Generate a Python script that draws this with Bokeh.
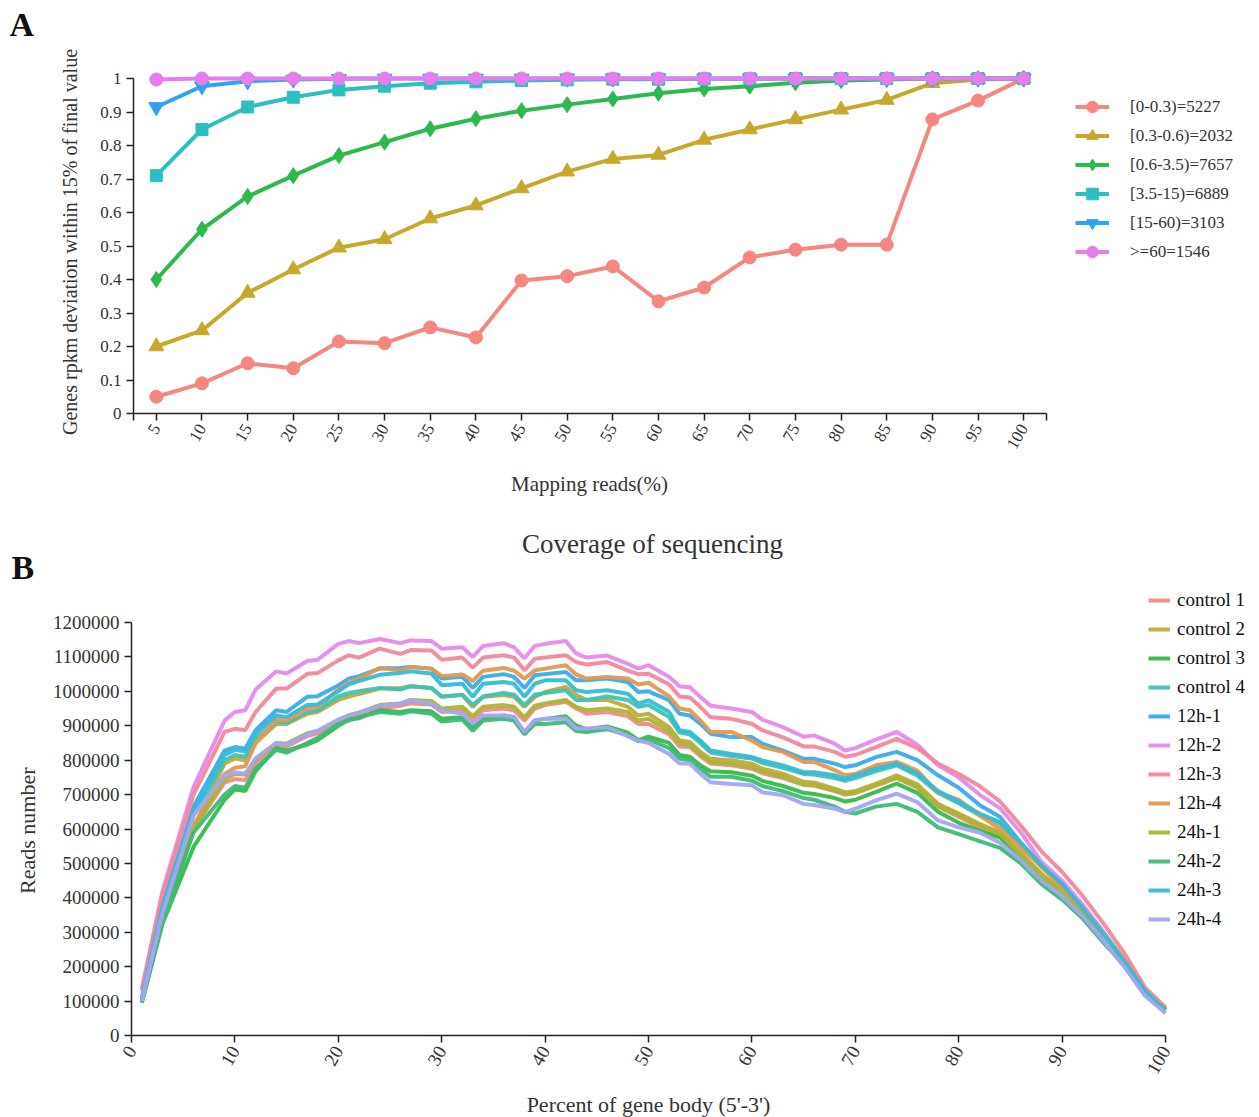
import math
from bokeh.plotting import figure
from bokeh.models import FixedTicker, Legend, LegendItem, NumeralTickFormatter, Range1d
from bokeh.core.properties import value
from bokeh.embed import file_html
from bokeh.resources import INLINE

FONT = "Liberation Serif"
W = 1258

# ---------------- Panel A data ----------------
mapping_pct = [5, 10, 15, 20, 25, 30, 35, 40, 45, 50, 55, 60, 65, 70, 75, 80, 85, 90, 95, 100]
a_labels = ["[0-0.3)=5227", "[0.3-0.6)=2032", "[0.6-3.5)=7657", "[3.5-15)=6889", "[15-60)=3103", ">=60=1546"]
a_r0_03 = [0.05, 0.09, 0.15, 0.135, 0.215, 0.21, 0.257, 0.227, 0.397, 0.41, 0.439, 0.335, 0.376, 0.466, 0.489, 0.504, 0.504, 0.878, 0.934, 1.0]
a_r03_06 = [0.20, 0.248, 0.36, 0.43, 0.495, 0.52, 0.582, 0.621, 0.672, 0.722, 0.760, 0.772, 0.817, 0.848, 0.878, 0.907, 0.936, 0.986, 0.997, 1.0]
a_r06_35 = [0.40, 0.55, 0.648, 0.71, 0.77, 0.81, 0.850, 0.880, 0.904, 0.922, 0.939, 0.956, 0.969, 0.977, 0.987, 0.994, 0.997, 1.0, 1.0, 1.0]
a_r35_15 = [0.71, 0.848, 0.915, 0.944, 0.966, 0.977, 0.986, 0.99, 0.994, 0.996, 0.998, 0.998, 0.999, 0.999, 1.0, 1.0, 1.0, 1.0, 1.0, 1.0]
a_r15_60 = [0.915, 0.977, 0.992, 0.997, 0.999, 1.0, 1.0, 1.0, 1.0, 1.0, 1.0, 1.0, 1.0, 1.0, 1.0, 1.0, 1.0, 1.0, 1.0, 1.0]
a_r60 = [0.997, 1.0, 1.0, 1.0, 1.0, 1.0, 1.0, 1.0, 1.0, 1.0, 1.0, 1.0, 1.0, 1.0, 1.0, 1.0, 1.0, 1.0, 1.0, 1.0]
a_yticks = [0, 0.1, 0.2, 0.3, 0.4, 0.5, 0.6, 0.7, 0.8, 0.9, 1.0]
a_ytick_labels = ["0", "0.1", "0.2", "0.3", "0.4", "0.5", "0.6", "0.7", "0.8", "0.9", "1"]

# ---------------- Panel B data (reads, thousands) ----------------
gene_body_pct = [1, 3, 6, 9, 10, 11, 12, 14, 15, 17, 18, 20, 21, 22, 24, 26, 27, 29, 30, 32,
                 33, 34, 36, 37, 38, 39, 40, 42, 43, 44, 46, 48, 49, 50, 52, 53, 54, 55, 56, 58,
                 60, 61, 63, 65, 66, 68, 69, 70, 72, 74, 76, 78, 80, 82, 84, 86, 88, 90, 92, 94,
                 96, 98, 99, 100]
control_1 = [103, 340, 600, 735, 745, 742, 790, 845, 840, 870, 878, 912, 925, 932, 950, 958, 965, 962, 940, 945,
             918, 945, 950, 945, 915, 950, 960, 970, 950, 935, 940, 928, 905, 905, 875, 840, 838, 812, 790, 785,
             775, 762, 748, 728, 726, 710, 700, 704, 726, 748, 720, 665, 635, 605, 580, 522, 462, 410, 345, 275,
             205, 122, 96, 75]
control_2 = [102, 345, 605, 790, 805, 800, 850, 905, 905, 935, 940, 975, 985, 992, 1008, 1010, 1015, 1010, 984, 989,
             955, 984, 989, 984, 955, 984, 998, 1013, 989, 975, 975, 955, 930, 935, 896, 857, 853, 824, 804, 800,
             790, 775, 761, 737, 735, 717, 707, 710, 732, 756, 730, 673, 645, 615, 590, 530, 470, 420, 355, 285,
             210, 128, 100, 78]
control_3 = [95, 325, 548, 685, 715, 710, 768, 835, 828, 845, 858, 900, 918, 922, 945, 940, 945, 942, 920, 925,
             895, 922, 930, 925, 880, 915, 920, 928, 900, 890, 898, 880, 858, 868, 850, 815, 810, 785, 768, 765,
             755, 740, 725, 705, 702, 690, 680, 685, 708, 732, 705, 650, 618, 595, 575, 515, 455, 405, 340, 272,
             205, 122, 96, 74]
control_4 = [105, 365, 640, 800, 815, 810, 860, 912, 908, 940, 945, 985, 995, 1000, 1010, 1005, 1015, 1010, 985, 990,
             960, 985, 995, 990, 960, 990, 995, 1003, 975, 975, 985, 975, 955, 960, 925, 880, 875, 850, 822, 812,
             805, 792, 778, 760, 758, 748, 740, 748, 768, 785, 755, 705, 675, 640, 615, 555, 490, 435, 365, 290,
             212, 128, 100, 75]
h12_1 = [108, 380, 665, 828, 838, 833, 887, 945, 940, 984, 986, 1017, 1037, 1044, 1066, 1068, 1071, 1066, 1037, 1042,
         1010, 1042, 1050, 1042, 1010, 1047, 1050, 1056, 1032, 1032, 1037, 1027, 998, 1000, 974, 935, 930, 906, 877, 867,
         867, 848, 828, 804, 804, 790, 780, 785, 809, 824, 800, 756, 720, 670, 635, 560, 495, 440, 375, 300,
         220, 135, 105, 78]
h12_2 = [136, 420, 722, 915, 940, 945, 1005, 1058, 1052, 1088, 1092, 1138, 1146, 1140, 1152, 1140, 1148, 1146, 1124, 1128,
         1100, 1132, 1140, 1128, 1096, 1132, 1138, 1146, 1110, 1098, 1104, 1080, 1066, 1076, 1042, 1015, 1012, 984, 958, 950,
         940, 918, 896, 868, 872, 848, 828, 835, 860, 882, 845, 785, 750, 700, 660, 590, 505, 450, 380, 300,
         215, 132, 110, 78]
h12_3 = [130, 410, 700, 882, 891, 887, 940, 1008, 1008, 1051, 1053, 1090, 1105, 1098, 1124, 1109, 1120, 1119, 1092, 1098,
         1069, 1098, 1105, 1098, 1061, 1095, 1098, 1105, 1085, 1078, 1085, 1060, 1050, 1051, 1020, 985, 982, 955, 925, 920,
         906, 887, 866, 840, 840, 824, 810, 815, 838, 862, 835, 790, 760, 725, 680, 610, 535, 475, 405, 325,
         240, 140, 110, 82]
h12_4 = [104, 350, 610, 760, 778, 782, 850, 918, 915, 950, 955, 1005, 1025, 1037, 1068, 1061, 1071, 1066, 1044, 1049,
         1030, 1060, 1068, 1060, 1037, 1061, 1066, 1076, 1049, 1037, 1042, 1037, 1020, 1025, 985, 950, 945, 916, 882, 882,
         857, 838, 824, 795, 795, 771, 756, 760, 785, 795, 770, 705, 685, 640, 600, 545, 490, 430, 365, 295,
         220, 130, 105, 78]
h24_1 = [100, 335, 600, 745, 760, 758, 800, 850, 848, 878, 885, 915, 930, 938, 960, 965, 975, 972, 950, 955,
         928, 955, 960, 955, 925, 958, 965, 975, 955, 945, 950, 940, 915, 920, 885, 850, 845, 818, 795, 790,
         780, 768, 752, 730, 728, 712, 702, 705, 728, 750, 722, 668, 640, 610, 585, 525, 465, 415, 350, 280,
         208, 125, 98, 76]
h24_2 = [98, 330, 590, 700, 725, 720, 775, 830, 822, 850, 865, 905, 915, 925, 940, 935, 942, 935, 912, 918,
         885, 915, 920, 915, 875, 905, 905, 910, 885, 882, 890, 872, 855, 860, 835, 805, 800, 775, 752, 752,
         740, 725, 710, 690, 685, 665, 650, 645, 665, 673, 650, 605, 585, 565, 545, 500, 440, 395, 340, 270,
         205, 122, 96, 74]
h24_3 = [110, 375, 650, 815, 830, 825, 875, 930, 925, 960, 962, 1000, 1020, 1030, 1048, 1053, 1058, 1052, 1018, 1022,
         984, 1022, 1027, 1022, 984, 1022, 1032, 1032, 1003, 998, 1003, 993, 964, 974, 940, 887, 882, 857, 828, 818,
         809, 799, 785, 765, 765, 756, 746, 756, 775, 790, 762, 710, 680, 645, 620, 560, 495, 440, 370, 295,
         215, 130, 100, 73]
h24_4 = [100, 355, 640, 755, 765, 760, 805, 850, 845, 875, 885, 918, 930, 938, 958, 965, 974, 964, 945, 935,
         906, 930, 930, 925, 882, 916, 920, 921, 892, 892, 896, 870, 857, 850, 818, 790, 790, 761, 736, 731,
         727, 707, 698, 673, 670, 659, 649, 659, 683, 703, 678, 625, 605, 590, 560, 510, 450, 405, 345, 275,
         200, 116, 90, 65]
b_labels = ["control 1", "control 2", "control 3", "control 4", "12h-1", "12h-2", "12h-3", "12h-4",
            "24h-1", "24h-2", "24h-3", "24h-4"]
b_series = [control_1, control_2, control_3, control_4, h12_1, h12_2, h12_3, h12_4, h24_1, h24_2, h24_3, h24_4]
b_yticks = list(range(0, 1200001, 100000))
b_xticks = list(range(0, 101, 10))

a_colors = ["#F4877F", "#C6A92C", "#2DB94B", "#2DBFBF", "#2EA3F2", "#E47EEC"]
a_markers = ["circle", "triangle", "diamond", "square", "inverted_triangle", "circle"]
a_sizes = [13, 15, 16, 12, 15, 13]
b_colors = ["#F28A84", "#C5A83A", "#35BA48", "#3EC3B5", "#3AABEB", "#E58AEB",
            "#F2879D", "#E3994F", "#A8B634", "#3CBB78", "#35BBD6", "#A4A6F0"]


def style_axes(p, tick_size):
    for ax in (p.xaxis[0], p.yaxis[0]):
        ax.axis_line_width = 1.5
        ax.axis_line_color = "#222222"
        ax.major_tick_line_color = "#222222"
        ax.major_tick_line_width = 1.5
        ax.major_tick_out = 7
        ax.major_tick_in = 0
        ax.minor_tick_line_color = None
        ax.major_label_text_font = FONT
        ax.major_label_text_font_size = tick_size
        ax.major_label_text_color = "#333333"
        ax.axis_label_text_font = FONT
        ax.axis_label_text_font_style = "normal"
        ax.axis_label_text_color = "#333333"
    p.grid.visible = False
    p.outline_line_color = None


def text_strip(height, texts):
    """A plain strip (no axes) whose data units are pixels, for panel letters, titles and x labels."""
    s = figure(width=W, height=height, x_range=Range1d(0, W), y_range=Range1d(height, 0),
               x_axis_type=None, y_axis_type=None, output_backend="svg", toolbar_location=None,
               min_border_left=0, min_border_right=0, min_border_top=0, min_border_bottom=0)
    s.grid.visible = False
    s.outline_line_color = None
    for (tx, ty, t, size, style, align, color) in texts:
        s.text(x=[tx], y=[ty], text=[t], text_font=value(FONT), text_font_size=size,
               text_font_style=style, text_align=align, text_baseline="middle", text_color=color)
    return s


# ---------------- header with "A" (page y 0-45) ----------------
head_a = text_strip(45, [(9, 24, "A", "34px", "bold", "left", "#111111")])

# ---------------- Panel A (page y 45-465) ----------------
pa = figure(width=W, height=420, x_range=(2.5, 124.84), y_range=(0, 1.0239),
            output_backend="svg", toolbar_location=None,
            min_border_left=133, min_border_right=8, min_border_top=25, min_border_bottom=52)
style_axes(pa, "17px")
pa.xaxis.bounds = (2.5, 102.5)
pa.yaxis.bounds = (0, 1)
pa.xaxis.ticker = FixedTicker(ticks=[2.5] + mapping_pct + [102.5])
pa.xaxis.major_label_overrides = {2.5: "", 102.5: ""}
pa.xaxis.major_label_orientation = math.pi / 3
pa.yaxis.ticker = FixedTicker(ticks=a_yticks)
pa.yaxis.major_label_overrides = {t: l for t, l in zip(a_yticks, a_ytick_labels)}
pa.yaxis.axis_label = "Genes rpkm deviation within 15% of final value"
pa.yaxis.axis_label_text_font_size = "20px"
pa.yaxis.axis_label_standoff = 16

a_all = [a_r0_03, a_r03_06, a_r06_35, a_r35_15, a_r15_60, a_r60]
items = []
for vals, col, mk, sz, lab in zip(a_all, a_colors, a_markers, a_sizes, a_labels):
    lr = pa.line(mapping_pct, vals, line_color=col, line_width=4)
    sr = pa.scatter(mapping_pct, vals, marker=mk, size=sz, fill_color=col, line_color=col)
    items.append(LegendItem(label=lab, renderers=[lr, sr]))
leg_a = Legend(items=items, location=(942, 147), glyph_width=34, glyph_height=29,
               label_standoff=21, spacing=0, padding=0, margin=0, border_line_color=None,
               background_fill_alpha=0, label_text_font=FONT, label_text_font_size="17px",
               label_text_color="#333333")
pa.add_layout(leg_a)

# ---------------- strip: A's x label, B's title and "B" (page y 465-587) ----------------
mid = text_strip(122, [(589, 18, "Mapping reads(%)", "21px", "normal", "center", "#333333"),
                       (652, 78, "Coverage of sequencing", "27px", "normal", "center", "#333333"),
                       (11, 102, "B", "34px", "bold", "left", "#111111")])

# ---------------- Panel B (page y 587-1085) ----------------
pb = figure(width=W, height=498, x_range=(0, 108.99), y_range=(0, 1301695),
            output_backend="svg", toolbar_location=None,
            min_border_left=131, min_border_right=0, min_border_top=0, min_border_bottom=50)
style_axes(pb, "19px")
pb.xaxis.bounds = (0, 100)
pb.yaxis.bounds = (0, 1200000)
pb.xaxis.ticker = FixedTicker(ticks=b_xticks)
pb.xaxis.major_label_orientation = math.pi / 3
pb.yaxis.ticker = FixedTicker(ticks=b_yticks)
pb.yaxis.formatter = NumeralTickFormatter(format="0")
# trailing no-break spaces centre the visible words on the axis span rather than on the taller frame
pb.yaxis.axis_label = "Reads number" + "\u00a0" * 7
pb.yaxis.axis_label_text_font_size = "22px"
pb.yaxis.axis_label_standoff = 10

items_b = []
for vals, col, lab in zip(b_series, b_colors, b_labels):
    assert len(vals) == len(gene_body_pct)
    r = pb.line(gene_body_pct, [v * 1000 for v in vals], line_color=col, line_width=4, line_alpha=0.95)
    items_b.append(LegendItem(label=lab, renderers=[r]))
leg_b = Legend(items=items_b, location=(1017, 105), glyph_width=22, glyph_height=22,
               label_standoff=7, spacing=7, padding=0, margin=0, border_line_color=None,
               background_fill_alpha=0, label_text_font=FONT, label_text_font_size="19px",
               label_text_color="#111111")
pb.add_layout(leg_b)

# ---------------- footer: B's x label (page y 1085-1117) ----------------
foot = text_strip(32, [(648, 19, "Percent of gene body (5'-3')", "22px", "normal", "center", "#333333")])

open("out.html", "w").write(file_html([head_a, pa, mid, pb, foot], INLINE))
